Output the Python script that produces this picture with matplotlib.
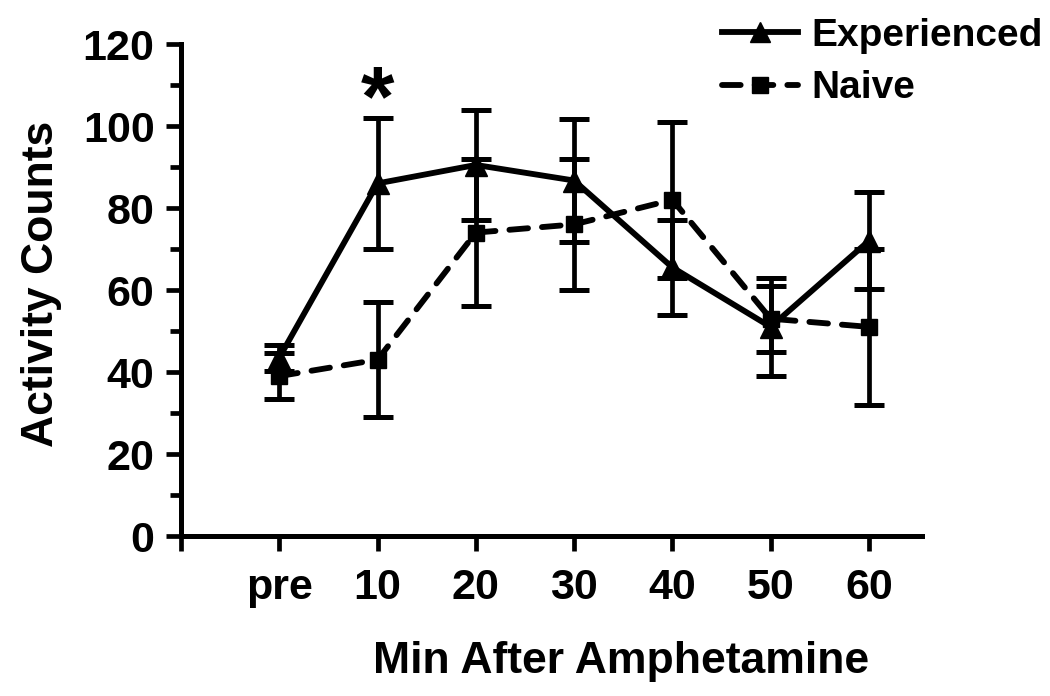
import matplotlib
matplotlib.use("Agg")
import matplotlib.pyplot as plt
from matplotlib.lines import Line2D
import numpy as np

plt.rcParams['font.family'] = ['Liberation Sans', 'DejaVu Sans']
plt.rcParams['font.weight'] = 'bold'

categories = ['pre', '10', '20', '30', '40', '50', '60']
exp_mean = [43.5, 86, 90.5, 86.7, 65.5, 51, 72]
exp_sem = [3.2, 16, 13.5, 15, 11.5, 12, 11.8]
naive_mean = [39, 43, 74, 76, 82, 53, 51]
naive_sem = [5.7, 14, 18, 16, 19, 8, 19]
y_ticks = [0, 20, 40, 60, 80, 100, 120]

W, H = 1050, 696
fig = plt.figure(figsize=(W / 100, H / 100), dpi=100)
ax = fig.add_axes([181 / W, 1 - 536 / H, (922 - 181) / W, (536 - 44) / H])

x = np.arange(len(categories))
dash = (0, (3.2, 2.4))

ax.errorbar(x, naive_mean, yerr=naive_sem, color='black', lw=4.2,
            linestyle=dash, dash_capstyle='round',
            marker='s', ms=12, elinewidth=3.4, capsize=11, capthick=3.6,
            zorder=2)
ax.errorbar(x, exp_mean, yerr=exp_sem, color='black', lw=4.2,
            linestyle='-', marker='^', ms=16, elinewidth=3.4, capsize=11,
            capthick=3.6, zorder=3)

ax.text(1, 100.3, '*', ha='center', va='baseline', fontsize=62, fontweight='bold')

ax.set_xlim(-1, 6.54)
ax.set_ylim(0, 120)
ax.set_xticks(np.concatenate([[-1], x]))
ax.set_xticklabels([''] + categories)
ax.set_yticks(y_ticks)
ax.set_yticks(np.arange(10, 120, 20), minor=True)

for s in ['top', 'right']:
    ax.spines[s].set_visible(False)
for s in ['left', 'bottom']:
    ax.spines[s].set_linewidth(3.6)

ax.tick_params(axis='both', which='major', length=11, width=3.4, labelsize=31, pad=8)
ax.tick_params(axis='y', which='minor', length=8, width=3.4)
ax.tick_params(axis='x', which='major', pad=12)
for lbl in ax.get_xticklabels() + ax.get_yticklabels():
    lbl.set_fontweight('bold')

fig.text(621 / W, 1 - 673 / H, 'Min After Amphetamine', ha='center', va='baseline',
         fontsize=32, fontweight='bold')
fig.text(42 / W, 1 - 284 / H, 'Activity Counts', ha='center', va='center',
         rotation=90, fontsize=32, fontweight='bold')

h_exp = Line2D([], [], color='black', lw=4.2, marker='^', ms=14)
h_naive = Line2D([], [], color='black', lw=4.2, linestyle=dash,
                 dash_capstyle='round', marker='s', ms=11)
fig.legend([h_exp, h_naive], ['Experienced', 'Naive'],
           loc='upper left', bbox_to_anchor=(722 / W, 1 - 18 / H), frameon=False,
           prop={'weight': 'bold', 'size': 28}, handlelength=1.95,
           handletextpad=0.35, labelspacing=0.42, borderpad=0.0, borderaxespad=0.0)

fig.savefig('out.png', dpi=100)
